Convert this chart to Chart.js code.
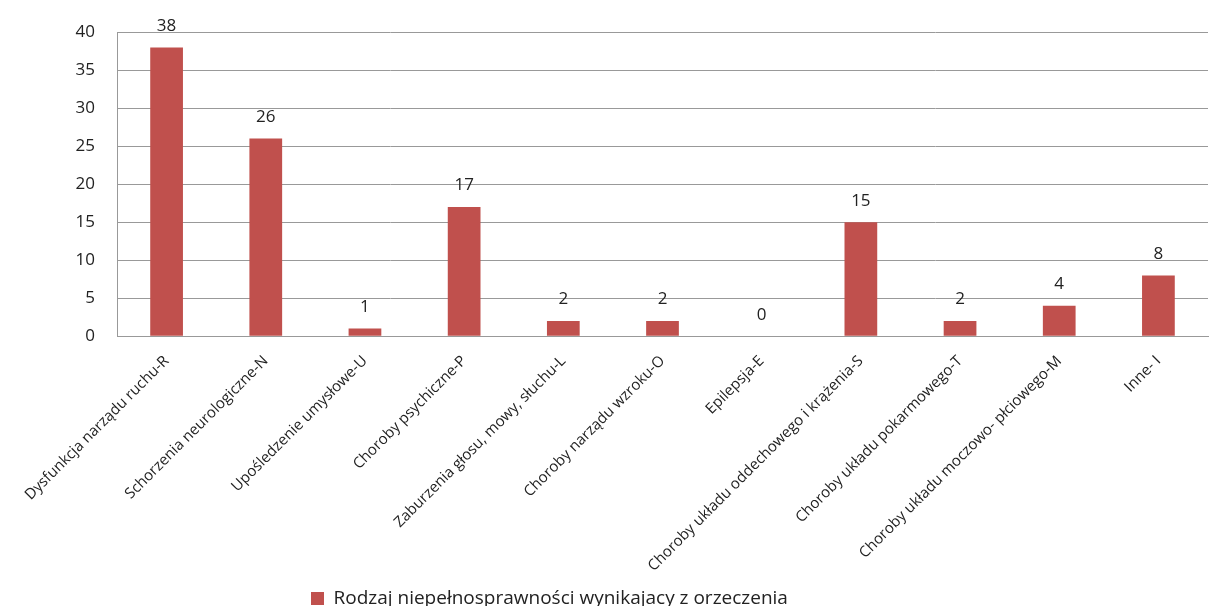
<!DOCTYPE html>
<html>
<head>
<meta charset="utf-8">
<script src="https://cdn.jsdelivr.net/npm/chart.js@4"></script>
<style>
  html, body { margin: 0; padding: 0; background: #fff; }
  #wrap { width: 1211px; height: 606px; }
</style>
</head>
<body>
<div id="wrap"><canvas id="chart"></canvas></div>
<script>
const categories = [
    "Dysfunkcja narządu ruchu-R",
    "Schorzenia neurologiczne-N",
    "Upośledzenie umysłowe-U",
    "Choroby psychiczne-P",
    "Zaburzenia głosu, mowy, słuchu-L",
    "Choroby narządu wzroku-O",
    "Epilepsja-E",
    "Choroby układu oddechowego i krążenia-S",
    "Choroby układu pokarmowego-T",
    "Choroby układu moczowo- płciowego-M",
    "Inne- I"
];
const values = [38, 26, 1, 17, 2, 2, 0, 15, 2, 4, 8];
const seriesName = "Rodzaj niepełnosprawności wynikajacy z orzeczenia";
const yTicks = [0, 5, 10, 15, 20, 25, 30, 35, 40];

const FONT = "'Open Sans', sans-serif";

// value labels above each bar
const barLabels = {
    id: "barLabels",
    afterDatasetsDraw(chart) {
        const ctx = chart.ctx;
        const meta = chart.getDatasetMeta(0);
        ctx.save();
        ctx.font = "17px " + FONT;
        ctx.fillStyle = "#222";
        ctx.textAlign = "center";
        ctx.textBaseline = "bottom";
        meta.data.forEach(function (bar, i) {
            ctx.fillText(values[i], bar.x, bar.y - 13);
        });
        ctx.restore();
    }
};

// move the legend left and down, like in the original
const legendShift = {
    id: "legendShift",
    afterLayout(chart) {
        const lg = chart.legend;
        const w = lg.right - lg.left;
        lg.left = 309;
        lg.right = 309 + w;
        lg.top += 12;
        lg.bottom += 12;
    }
};

new Chart(document.getElementById("chart").getContext("2d"), {
    type: "bar",
    data: {
        labels: categories,
        datasets: [{
            label: seriesName,
            data: values,
            backgroundColor: "#c0504d",
            borderWidth: 0,
            categoryPercentage: 1,
            barPercentage: 0.33
        }]
    },
    options: {
        responsive: true,
        maintainAspectRatio: false,
        animation: false,
        layout: { padding: { top: 18, right: 3, left: 10, bottom: 0 } },
        plugins: {
            tooltip: { enabled: false },
            legend: {
                position: "bottom",
                align: "start",
                labels: {
                    boxWidth: 13,
                    boxHeight: 13,
                    padding: 2,
                    color: "#222",
                    font: { family: FONT, size: 19 }
                }
            }
        },
        scales: {
            x: {
                grid: { display: false },
                border: { color: "#999" },
                ticks: {
                    minRotation: 45,
                    maxRotation: 45,
                    autoSkip: false,
                    padding: 8,
                    color: "#222",
                    font: { family: FONT, size: 15 }
                },
                afterFit(axis) {
                    axis.height -= 8;
                }
            },
            y: {
                min: 0,
                max: 40,
                afterBuildTicks(axis) {
                    axis.ticks = yTicks.map(v => ({ value: v }));
                },
                afterFit(axis) {
                    axis.width = 107;
                },
                grid: { color: "#999", drawTicks: false },
                border: { color: "#999" },
                ticks: {
                    padding: 22,
                    color: "#222",
                    font: { family: FONT, size: 17 }
                }
            }
        }
    },
    plugins: [barLabels, legendShift]
});
</script>
</body>
</html>
